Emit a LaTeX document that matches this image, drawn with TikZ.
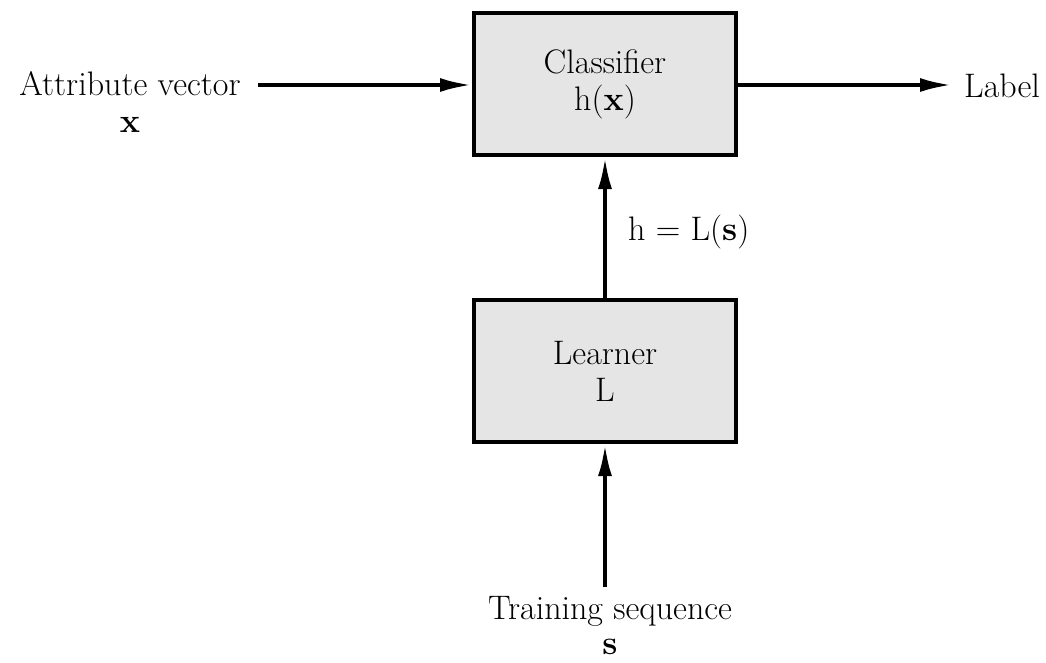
\documentclass[tikz,border=0pt]{standalone}
\usepackage{fontspec}
\usetikzlibrary{arrows.meta}
\begin{document}
\begin{tikzpicture}[x=1pt,y=-1pt,
  box/.style={draw=black,line width=4pt,fill=black!10,minimum width=262pt,minimum height=142pt,inner sep=0pt,align=center,font=\fontsize{34}{37}\selectfont},
  lbl/.style={inner sep=0pt,align=center,font=\fontsize{34}{37}\selectfont},
  conn/.style={line width=4pt,-{Latex[length=32pt,width=14pt]}}]
\useasboundingbox (0,0) rectangle (1046,662);
\node[box] (cls) at (605,84) {Classifier\\h(\textbf{x})};
\node[box] (lrn) at (605,371) {Learner\\L};
\node[lbl,anchor=north] (av) at (130,71) {Attribute vector\\\textbf{x}};
\node[lbl,anchor=west] (lab) at (964,86) {Label};
\node[lbl,anchor=north,font=\fontsize{34}{35}\selectfont] (ts) at (610,596) {Training sequence\\\textbf{s}};
\node[lbl,anchor=west] (hl) at (628,232) {h = L(\textbf{s})};
\coordinate (avE) at (258,85);
\coordinate (labW) at (952,85);
\coordinate (tsN) at (605,587);
\draw[conn] (avE) -- (avE -| cls.west);
\draw[conn] (cls.east |- labW) -- (labW);
\draw[conn] (lrn.north) -- (cls.south);
\draw[conn] (tsN) -- (lrn.south);
\end{tikzpicture}
\end{document}
